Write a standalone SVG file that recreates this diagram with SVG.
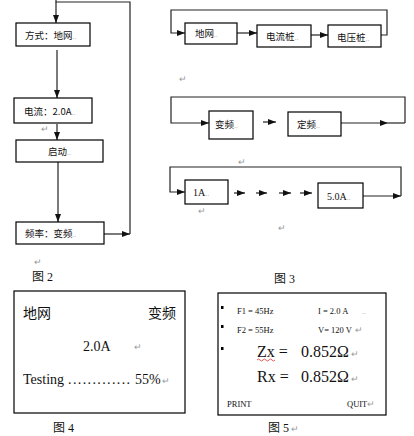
<svg xmlns="http://www.w3.org/2000/svg" width="414" height="436" viewBox="0 0 414 436">
<style>
.box{fill:#fff;stroke:#000;stroke-width:1.2}
.ln{fill:none;stroke:#222;stroke-width:1.2}
.cj{font-family:"Noto Sans CJK SC","Noto Sans",sans-serif;font-size:9.5px;fill:#111}
.tm{font-family:"Liberation Serif","Noto Sans CJK SC",serif;fill:#111}
.mk{font-family:"Liberation Serif",serif;font-size:9px;fill:#999}
.dt{font-family:"Liberation Sans",sans-serif;font-size:7px;fill:#999}
</style>
<defs>
<marker id="ah" viewBox="0 0 8 6" refX="8" refY="3" markerWidth="8" markerHeight="6" markerUnits="userSpaceOnUse" orient="auto">
<path d="M0,0 L8,3 L0,6 z" fill="#111"/>
</marker>
</defs>
<rect width="414" height="436" fill="#fff"/>

<g id="connectors">
<path class="ln" d="M56,0 V2 H130 V234" />
<path class="ln" d="M56,2 V23" marker-end="url(#ah)"/>
<path class="ln" d="M57,50 V98" marker-end="url(#ah)"/>
<path class="ln" d="M57,124 V140" marker-end="url(#ah)"/>
<path class="ln" d="M58,162 V222" marker-end="url(#ah)"/>
<path class="ln" d="M104,234 H130" marker-end="url(#ah)"/>
<path class="ln" d="M381,35 H387 V10 H171 V33 H185" marker-end="url(#ah)"/>
<path class="ln" d="M237,33 H257" marker-end="url(#ah)"/>
<path class="ln" d="M311,35 H328" marker-end="url(#ah)"/>
<path class="ln" d="M405,123 V97 H171 V123 H209" marker-end="url(#ah)"/>
<path class="ln" d="M263,122 H276" marker-end="url(#ah)"/>
<path class="ln" d="M341,123 H388" marker-end="url(#ah)" stroke-width="1.6"/>
<path class="ln" d="M388,123 H405"/>
<path class="ln" d="M401,196 V167 H170 V192 H185" marker-end="url(#ah)"/>
<path class="ln" d="M234,193 H245" marker-end="url(#ah)"/>
<path class="ln" d="M256,193 H267" marker-end="url(#ah)"/>
<path class="ln" d="M279,193 H291" marker-end="url(#ah)"/>
<path class="ln" d="M300,193 H312" marker-end="url(#ah)"/>
<path class="ln" d="M363,196 H401" marker-end="url(#ah)"/>
</g>

<g id="n-fangshi"><rect class="box" x="16" y="23" width="74" height="23"/><text class="cj" x="25" y="39">方式：地网<tspan class="dt">..</tspan></text></g>
<g id="n-dianliu"><rect class="box" x="14" y="98" width="78" height="25"/><text class="cj" x="24" y="115">电流：2.0A<tspan class="dt">..</tspan></text></g>
<g id="n-qidong"><rect class="box" x="16" y="140" width="87" height="22"/><text class="cj" x="48" y="155">启动<tspan class="dt">..</tspan></text></g>
<g id="n-pinlv"><rect class="box" x="16" y="222" width="88" height="22"/><text class="cj" x="25" y="237">频率：变频<tspan class="dt">..</tspan></text></g>
<text class="mk" x="41" y="132">↵</text>
<text class="mk" x="34" y="265">↵</text>
<text class="tm" x="32" y="281" font-size="12">图 2</text>

<g id="n-diwang"><rect class="box" x="185" y="23" width="52" height="21"/><text class="cj" x="195" y="37">地网<tspan class="dt">..</tspan></text></g>
<g id="n-dlz"><rect class="box" x="257" y="25" width="54" height="22"/><text class="cj" x="266" y="40">电流桩<tspan class="dt">..</tspan></text></g>
<g id="n-dyz"><rect class="box" x="328" y="25" width="53" height="22"/><text class="cj" x="337" y="41">电压桩<tspan class="dt">..</tspan></text></g>
<text class="mk" x="179" y="82">↵</text>

<g id="n-bianpin"><rect class="box" x="209" y="111" width="44" height="28"/><text class="cj" x="215" y="128">变频<tspan class="dt">..</tspan></text></g>
<g id="n-dingpin"><rect class="box" x="288" y="112" width="53" height="24"/><text class="cj" x="297" y="128">定频<tspan class="dt">..</tspan></text></g>
<text class="mk" x="238" y="165">↵</text>

<g id="n-1a"><rect class="box" x="185" y="180" width="43" height="24"/><text class="tm" x="193" y="196" font-size="10">1A<tspan class="dt">..</tspan></text></g>
<g id="n-5a"><rect class="box" x="318" y="183" width="45" height="25"/><text class="tm" x="327" y="200" font-size="10">5.0A<tspan class="dt">..</tspan></text></g>
<text class="mk" x="198" y="214">↵</text>
<text class="mk" x="278" y="231">↵</text>
<text class="tm" x="274" y="283" font-size="12">图 3</text>

<g id="fig4">
<rect class="box" x="14" y="291" width="171" height="122"/>
<text class="tm" x="23" y="318" font-size="14">地网</text>
<text class="tm" x="148" y="318" font-size="14">变频</text>
<text class="tm" x="83" y="351" font-size="14">2.0A</text>
<text class="mk" x="134" y="350">↵</text>
<text class="tm" x="23" y="384" font-size="14">Testing</text>
<text class="tm" x="68" y="384" font-size="14" textLength="62" lengthAdjust="spacing">.............</text>
<text class="tm" x="135" y="384" font-size="14">55%</text>
<text class="mk" x="162" y="384">↵</text>
</g>
<text class="tm" x="53" y="432" font-size="12">图 4</text>

<g id="fig5">
<rect class="box" x="218" y="293" width="168" height="122"/>
<rect x="221" y="306" width="2.5" height="3" fill="#000"/>
<rect x="221" y="325" width="2.5" height="3" fill="#000"/>
<rect x="221" y="347" width="2.5" height="3" fill="#000"/>
<text class="tm" x="237" y="314" font-size="8.5">F1 = 45Hz</text>
<text class="tm" x="318" y="314" font-size="8.5">I = 2.0 A</text>
<text class="dt" x="362" y="314">..</text>
<text class="tm" x="237" y="333" font-size="8.5">F2 = 55Hz</text>
<text class="tm" x="318" y="333" font-size="8.5">V= 120 V</text>
<text class="mk" x="355" y="333">↵</text>
<text class="tm" x="257" y="357" font-size="16">Zx =</text>
<text class="tm" x="301" y="357" font-size="16">0.852Ω</text>
<text class="mk" x="351" y="357">↵</text>
<path d="M257,360 q1.5,-2 3,0 t3,0 t3,0 t3,0 t3,0 t3,0" fill="none" stroke="#e03030" stroke-width="0.8"/>
<text class="tm" x="257" y="382" font-size="16">Rx =</text>
<text class="tm" x="301" y="382" font-size="16">0.852Ω</text>
<text class="mk" x="351" y="382">↵</text>
<text class="tm" x="227" y="407" font-size="8.5">PRINT</text>
<text class="tm" x="347" y="407" font-size="8.5">QUIT</text>
<text class="mk" x="367" y="407">↵</text>
</g>
<text class="tm" x="268" y="432" font-size="12">图 5</text>
<text class="mk" x="291" y="432">↵</text>
</svg>
